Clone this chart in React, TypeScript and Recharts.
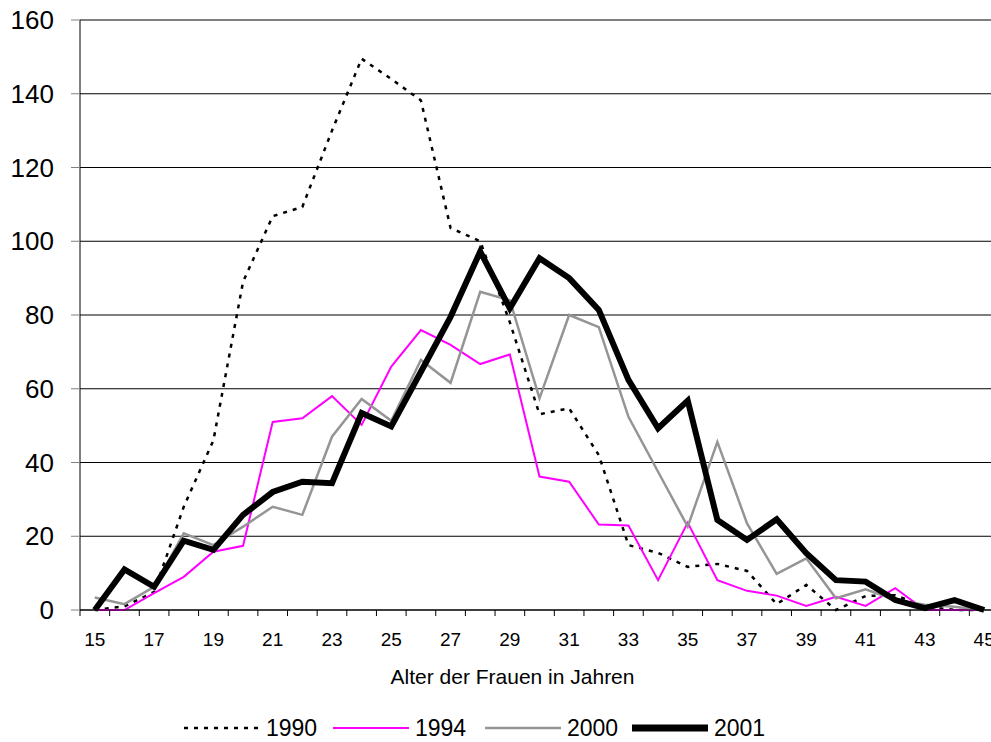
import { CartesianGrid, Legend, Line, LineChart, XAxis, YAxis } from "recharts"

const ages = [15, 16, 17, 18, 19, 20, 21, 22, 23, 24, 25, 26, 27, 28, 29, 30, 31, 32, 33, 34, 35, 36, 37, 38, 39, 40, 41, 42, 43, 44, 45]

const y1990 = [0, 1, 4.9, 28, 46, 89, 106.8, 109.3, 130, 149.5, 144, 138.2, 103.6, 100, 78, 53.1, 54.7, 42, 17.6, 15.5, 11.7, 12.5, 10.6, 1.6, 6.8, 0, 3.8, 4, 1, 0, 0]
const y1994 = [0, 0, 4.6, 9, 15.8, 17.4, 51, 52, 58, 50.2, 66, 75.9, 71.9, 66.7, 69.3, 36.2, 34.8, 23.2, 22.9, 8.1, 23.7, 8.1, 5.2, 3.9, 1.1, 3.6, 1.1, 5.9, 0, 0, 0]
const y2000 = [3.4, 1.6, 6.3, 20.8, 17.6, 22.6, 28, 25.8, 47, 57.2, 51.3, 67.8, 61.6, 86.3, 84, 57.4, 80, 76.7, 52.4, 37.5, 22.6, 45.6, 23.5, 9.8, 14, 3.2, 5.6, 2.7, 1.4, 0.9, 0]
const y2001 = [0, 11, 6.3, 18.8, 16.3, 25.8, 32, 34.8, 34.4, 53.4, 49.8, 64.6, 79.5, 97.2, 81.8, 95.4, 90, 81.4, 62.4, 49.3, 56.8, 24.4, 19, 24.6, 15.4, 8.1, 7.7, 2.7, 0.5, 2.7, 0]

const yTicks = [0, 20, 40, 60, 80, 100, 120, 140, 160]
const xTitle = "Alter der Frauen in Jahren"

const data = ages.map((age, i) => ({
  age,
  "1990": y1990[i],
  "1994": y1994[i],
  "2000": y2000[i],
  "2001": y2001[i],
}))

// tick marks sit between the ages, like Excel's category axis
const boundaries = [...ages.map((a) => a - 0.5), ages[ages.length - 1] + 0.5]

const series = [
  { key: "1990", color: "#000000", width: 2.5, dash: "4 6" },
  { key: "1994", color: "#ff00ff", width: 2, dash: undefined },
  { key: "2000", color: "#959595", width: 2.5, dash: undefined },
  { key: "2001", color: "#000000", width: 6, dash: undefined },
]

const CHART_W = 1000
const CHART_H = 742
const AXIS_W = 80
const PLOT_W = CHART_W - AXIS_W - 1
const band = PLOT_W / ages.length
const FONT = "'Liberation Sans', Arial, sans-serif"

const AgeTick = ({ x, y, payload }: any) => {
  const age = payload.value + 0.5
  if (age % 2 !== 1 || age > 45) return <g />
  return (
    <text x={x + band / 2} y={y} dy="0.71em" textAnchor="middle" fontSize={19} fill="#000" fontFamily={FONT}>
      {age}
    </text>
  )
}

const legendLeft = [184, 333, 485, 632]

const ChartLegend = () => (
  <div style={{ position: "relative", height: 52, width: "100%", fontFamily: FONT }}>
    {series.map((s, i) => (
      <div
        key={s.key}
        style={{ position: "absolute", left: legendLeft[i], top: 25, height: 26, display: "flex", alignItems: "center" }}
      >
        <svg width={76} height={26} style={{ display: "block" }}>
          <line x1={0} x2={76} y1={13} y2={13} stroke={s.color} strokeWidth={s.key === "2001" ? 7 : s.width} strokeDasharray={s.dash} />
        </svg>
        <span style={{ marginLeft: 6, fontSize: 23, color: "#000", lineHeight: "26px" }}>{s.key}</span>
      </div>
    ))}
  </div>
)

export default function App() {
  return (
    <div style={{ position: "fixed", left: 0, top: 0, width: 991, height: 742, overflow: "hidden", background: "#fff" }}>
      <LineChart width={CHART_W} height={CHART_H} data={data} margin={{ top: 20, right: 1, left: 0, bottom: 0 }}>
        <CartesianGrid vertical={false} stroke="#000" />
        <XAxis
          dataKey="age"
          type="number"
          domain={[14.5, 45.5]}
          ticks={boundaries}
          interval={0}
          tick={<AgeTick />}
          tickSize={6}
          tickMargin={17}
          height={80}
          axisLine={{ stroke: "#000" }}
          tickLine={{ stroke: "#000" }}
          label={{ value: xTitle, position: "insideBottom", offset: 6, dx: -27, fontSize: 21, fill: "#000", fontFamily: FONT }}
        />
        <YAxis
          width={AXIS_W}
          domain={[0, 160]}
          ticks={yTicks}
          interval={0}
          tickSize={9}
          tickMargin={17}
          axisLine={{ stroke: "#000" }}
          tickLine={{ stroke: "#808080" }}
          tick={{ fontSize: 26, fill: "#000", fontFamily: FONT }}
        />
        <Legend verticalAlign="bottom" height={52} content={() => <ChartLegend />} />
        {series.map((s) => (
          <Line
            key={s.key}
            dataKey={s.key}
            stroke={s.color}
            strokeWidth={s.width}
            strokeDasharray={s.dash}
            dot={false}
            activeDot={false}
            isAnimationActive={false}
          />
        ))}
      </LineChart>
    </div>
  )
}
